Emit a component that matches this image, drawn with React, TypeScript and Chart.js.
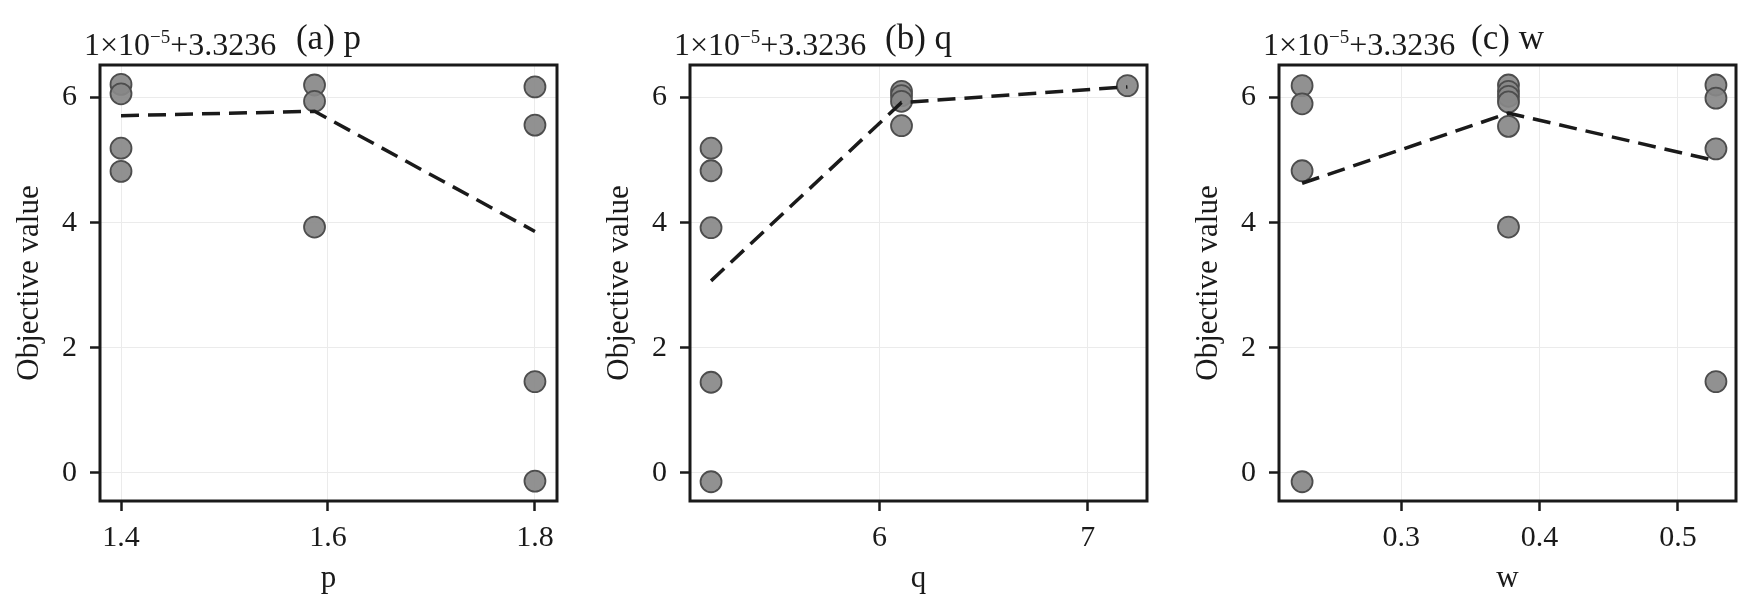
import { useEffect, useRef } from "react"
import { Chart, registerables } from "chart.js"

Chart.register(...registerables)

const SERIF = "'Liberation Serif', 'Times New Roman', Times, serif"
const INK = "#1a1a1a"

// shared y axis
const yTicks = [0, 2, 4, 6]
const yMin = -0.448
const yMax = 6.52

// (a) p
const pPointX = [1.4, 1.4, 1.4, 1.4, 1.587, 1.587, 1.587, 1.8, 1.8, 1.8, 1.8]
const pPointY = [6.21, 6.06, 5.19, 4.82, 6.2, 5.94, 3.93, 6.17, 5.56, 1.46, -0.13]
const pMeanX = [1.4, 1.587, 1.8]
const pMeanY = [5.71, 5.78, 3.86]
const pTicks = [1.4, 1.6, 1.8]

// (b) q
const qPointX = [5.192, 5.192, 5.192, 5.192, 5.192, 6.106, 6.106, 6.106, 6.106, 7.19]
const qPointY = [5.19, 4.83, 3.92, 1.45, -0.14, 6.1, 6.03, 5.94, 5.55, 6.19]
const qMeanX = [5.192, 6.106, 7.19]
const qMeanY = [3.07, 5.92, 6.17]
const qTicks = [6, 7]

// (c) w
const wPointX = [0.2283, 0.2283, 0.2283, 0.2283, 0.3775, 0.3775, 0.3775, 0.3775, 0.3775, 0.3775, 0.5275, 0.5275, 0.5275, 0.5275]
const wPointY = [6.19, 5.9, 4.83, -0.14, 6.2, 6.1, 6.02, 5.93, 5.54, 3.93, 6.2, 5.99, 5.18, 1.46]
const wMeanX = [0.2283, 0.3775, 0.5275]
const wMeanY = [4.63, 5.75, 4.99]
const wTicks = [0.3, 0.4, 0.5]

interface PanelProps {
  title: string
  axisName: string
  pointX: number[]
  pointY: number[]
  meanX: number[]
  meanY: number[]
  ticks: number[]
  xMin: number
  xMax: number
  left: number
}

const panels: PanelProps[] = [
  { title: "(a) p", axisName: "p", pointX: pPointX, pointY: pPointY, meanX: pMeanX, meanY: pMeanY, ticks: pTicks, xMin: 1.3797, xMax: 1.8213, left: 0 },
  { title: "(b) q", axisName: "q", pointX: qPointX, pointY: qPointY, meanX: qMeanX, meanY: qMeanY, ticks: qTicks, xMin: 5.091, xMax: 7.284, left: 590 },
  { title: "(c) w", axisName: "w", pointX: wPointX, pointY: wPointY, meanX: wMeanX, meanY: wMeanY, ticks: wTicks, xMin: 0.2116, xMax: 0.542, left: 1179 },
]

// frame round the plot area, offset text and panel title
const framePlugin = {
  id: "frame",
  afterDraw(chart: any, _args: any, opts: any) {
    const { ctx, chartArea: a } = chart
    ctx.save()
    ctx.strokeStyle = INK
    ctx.lineWidth = 3
    ctx.strokeRect(a.left, a.top, a.right - a.left, a.bottom - a.top)

    ctx.fillStyle = INK
    ctx.textBaseline = "alphabetic"
    ctx.textAlign = "left"
    let x = a.left - 16
    ctx.font = `32px ${SERIF}`
    ctx.fillText("1×10", x, 55)
    x += ctx.measureText("1×10").width
    ctx.font = `19px ${SERIF}`
    ctx.fillText("−5", x, 43)
    x += ctx.measureText("−5").width
    ctx.font = `32px ${SERIF}`
    ctx.fillText("+3.3236", x, 55)

    ctx.font = `35px ${SERIF}`
    ctx.textAlign = "center"
    ctx.fillText(opts.title, (a.left + a.right) / 2, 49)
    ctx.restore()
  },
}

const gridStyle = {
  color: "#ebebeb",
  lineWidth: 1,
  tickLength: 10,
  tickColor: INK,
  tickWidth: 2.5,
}

function Panel({ title, axisName, pointX, pointY, meanX, meanY, ticks, xMin, xMax, left }: PanelProps) {
  const canvasRef = useRef<HTMLCanvasElement | null>(null)

  useEffect(() => {
    if (!canvasRef.current) return
    Chart.defaults.font.family = SERIF

    const chart = new Chart(canvasRef.current, {
      type: "scatter",
      data: {
        datasets: [
          {
            label: "mean",
            data: meanX.map((v, i) => ({ x: v, y: meanY[i] })),
            showLine: true,
            borderColor: INK,
            borderWidth: 3.5,
            borderDash: [18, 9],
            pointRadius: 0,
            order: 0,
          },
          {
            label: "trials",
            data: pointX.map((v, i) => ({ x: v, y: pointY[i] })),
            pointRadius: 10.5,
            pointBorderWidth: 1.8,
            backgroundColor: "rgba(136, 136, 136, 0.92)",
            borderColor: "#4d4d4d",
            order: 1,
          },
        ],
      },
      options: {
        animation: false,
        responsive: true,
        maintainAspectRatio: false,
        layout: { padding: { left: 0, right: 19, top: 65, bottom: 0 } },
        scales: {
          x: {
            type: "linear",
            min: xMin,
            max: xMax,
            afterBuildTicks: (s: any) => {
              s.ticks = ticks.map((v) => ({ value: v }))
            },
            afterFit: (s: any) => {
              s.height = 113
            },
            ticks: { font: { size: 30 }, color: INK, padding: 9, callback: (v: any) => String(v) },
            grid: gridStyle,
            border: { display: false },
            title: { display: true, text: axisName, font: { size: 31 }, color: INK, padding: { top: 0, bottom: 17 } },
          },
          y: {
            type: "linear",
            min: yMin,
            max: yMax,
            afterBuildTicks: (s: any) => {
              s.ticks = yTicks.map((v) => ({ value: v }))
            },
            afterFit: (s: any) => {
              s.width = 100
            },
            ticks: { font: { size: 30 }, color: INK, padding: 13, callback: (v: any) => String(v) },
            grid: gridStyle,
            border: { display: false },
            title: { display: true, text: "Objective value", font: { size: 31 }, color: INK, padding: { top: 11, bottom: 0 } },
          },
        },
        plugins: {
          legend: { display: false },
          tooltip: { enabled: false },
          frame: { title },
        } as any,
      },
      plugins: [framePlugin],
    })

    return () => {
      chart.destroy()
    }
  }, [title, axisName, pointX, pointY, meanX, meanY, ticks, xMin, xMax])

  return (
    <div style={{ position: "absolute", left, top: 0, width: 576, height: 614 }}>
      <canvas ref={canvasRef}></canvas>
    </div>
  )
}

export default function App() {
  return (
    <div style={{ position: "fixed", left: 0, top: 0, width: 1755, height: 614, background: "#ffffff", overflow: "hidden" }}>
      {panels.map((p) => (
        <Panel key={p.title} {...p} />
      ))}
    </div>
  )
}
